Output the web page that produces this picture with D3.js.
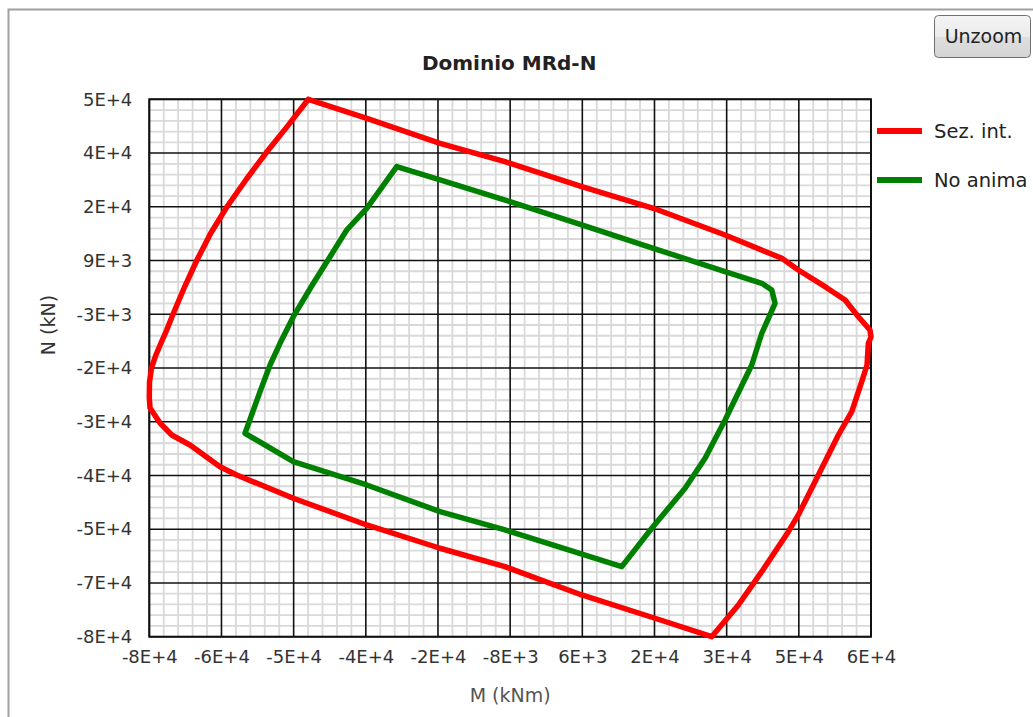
<!DOCTYPE html>
<html>
<head>
<meta charset="utf-8">
<script src="https://cdn.jsdelivr.net/npm/d3@7"></script>
<style>
  html, body { margin: 0; padding: 0; background: #fff; }
  svg { display: block; }
  text { font-family: "DejaVu Sans", sans-serif; }
</style>
</head>
<body>
<svg id="chart" width="1033" height="717"></svg>
<script>
// ---------- data ----------
const title = "Dominio MRd-N";
const xTitle = "M (kNm)";
const yTitle = "N (kN)";
const seriesNames = ["Sez. int.", "No anima"];
const seriesColors = ["#ff0000", "#008000"];

const xTickValues = [-78000, -64000, -50000, -36000, -22000, -8000, 6000, 20000, 34000, 48000, 62000];
const xTickLabels = ["-8E+4", "-6E+4", "-5E+4", "-4E+4", "-2E+4", "-8E+3", "6E+3", "2E+4", "3E+4", "5E+4", "6E+4"];
const yTickValues = [-80550, -67700, -54850, -42000, -29150, -16300, -3450, 9400, 22250, 35100, 47950];
const yTickLabels = ["-8E+4", "-7E+4", "-5E+4", "-4E+4", "-3E+4", "-2E+4", "-3E+3", "9E+3", "2E+4", "4E+4", "5E+4"];

// Sez. int. : [M, N]
const sezInt = [
  [-47150, 47950], [-35800, 43400], [-21600, 37430], [-9000, 33030], [5900, 27050],
  [19800, 21890], [33700, 15500], [44700, 9930], [47900, 7140], [53090, 3140],
  [56970, -40], [59550, -4030], [61800, -7210], [62000, -8880], [61490, -10390],
  [61230, -15580], [60200, -19570], [58270, -26750], [55670, -32320], [51790, -41880],
  [47900, -51440], [45970, -55440], [40800, -65000], [36270, -72960], [31100, -80550],
  [20100, -76140], [5890, -70570], [-9000, -63800], [-21600, -59400], [-35820, -53840],
  [-50060, -47450], [-61040, -41880], [-64280, -39900], [-70100, -34710], [-73650, -32320],
  [-75920, -29450], [-77860, -25860], [-78000, -23470], [-77960, -19640], [-77570, -16300],
  [-76800, -13430], [-75730, -10320], [-74620, -7210], [-73400, -3450], [-71190, 3000],
  [-68800, 9400], [-66090, 15910], [-62930, 22250], [-59140, 28890], [-55220, 35350],
  [-51110, 41660], [-47150, 47950]
];

// No anima : [M, N]
const noAnima = [
  [-30000, 31840], [-21600, 28660], [-8020, 23470], [5890, 17900], [19780, 12320],
  [33690, 6730], [40810, 3960], [42750, 2350], [43390, -830], [40810, -8000],
  [38870, -15580], [33690, -28730], [29810, -37890], [25930, -45060], [19470, -54620],
  [13650, -63800], [-8990, -55030], [-21600, -50660], [-35820, -44270], [-50060, -38700],
  [-59430, -31910], [-56520, -21960], [-54580, -15580], [-52640, -10390], [-50060, -4030],
  [-46180, 3960], [-42940, 10320], [-39700, 16700], [-35820, 21890], [-30000, 31840]
];

// ---------- layout ----------
const svg = d3.select("#chart");
const plot = { left: 149.3, right: 871, top: 99.3, bottom: 636.7 };

const x = d3.scaleLinear().domain([xTickValues[0], xTickValues[xTickValues.length - 1]]).range([plot.left, plot.right]);
const y = d3.scaleLinear().domain([yTickValues[0], yTickValues[yTickValues.length - 1]]).range([plot.bottom, plot.top]);

// outer frame
svg.append("rect")
  .attr("x", 8.5).attr("y", 9.5).attr("width", 1200).attr("height", 900)
  .attr("fill", "#fff").attr("stroke", "#a0a0a0").attr("stroke-width", 2);

// minor grid values
function minors(ticks, n) {
  const out = [];
  for (let i = 0; i < ticks.length - 1; i++) {
    for (let k = 1; k < n; k++) out.push(ticks[i] + (ticks[i + 1] - ticks[i]) * k / n);
  }
  return out;
}
const xMinor = minors(xTickValues, 5);
const yMinor = minors(yTickValues, 5);

const grid = svg.append("g");
grid.selectAll(".vmin").data(xMinor).join("line")
  .attr("x1", d => x(d)).attr("x2", d => x(d)).attr("y1", plot.top).attr("y2", plot.bottom)
  .attr("stroke", "#d9d9d9").attr("stroke-width", 1.8);
grid.selectAll(".hmin").data(yMinor).join("line")
  .attr("y1", d => y(d)).attr("y2", d => y(d)).attr("x1", plot.left).attr("x2", plot.right)
  .attr("stroke", "#d9d9d9").attr("stroke-width", 1.8);
grid.selectAll(".vmaj").data(xTickValues).join("line")
  .attr("x1", d => x(d)).attr("x2", d => x(d)).attr("y1", plot.top).attr("y2", plot.bottom)
  .attr("stroke", "#111").attr("stroke-width", 1.6);
grid.selectAll(".hmaj").data(yTickValues).join("line")
  .attr("y1", d => y(d)).attr("y2", d => y(d)).attr("x1", plot.left).attr("x2", plot.right)
  .attr("stroke", "#111").attr("stroke-width", 1.6);
svg.append("rect")
  .attr("x", plot.left).attr("y", plot.top)
  .attr("width", plot.right - plot.left).attr("height", plot.bottom - plot.top)
  .attr("fill", "none").attr("stroke", "#111").attr("stroke-width", 2);

// axes (labels only)
const xAxis = d3.axisBottom(x).tickValues(xTickValues)
  .tickFormat((d, i) => xTickLabels[i]).tickSize(0).tickPadding(14);
const gx = svg.append("g").attr("transform", `translate(0,${plot.bottom})`).call(xAxis);
gx.select(".domain").remove();
gx.selectAll("text").attr("font-size", 18).attr("fill", "#333")
  .attr("font-family", "DejaVu Sans, sans-serif");

const yAxis = d3.axisLeft(y).tickValues(yTickValues)
  .tickFormat((d, i) => yTickLabels[i]).tickSize(0).tickPadding(17);
const gy = svg.append("g").attr("transform", `translate(${plot.left},0)`).call(yAxis);
gy.select(".domain").remove();
gy.selectAll("text").attr("font-size", 18).attr("fill", "#333")
  .attr("font-family", "DejaVu Sans, sans-serif");

// series
const line = d3.line().x(d => x(d[0])).y(d => y(d[1]));
[sezInt, noAnima].forEach((s, i) => {
  svg.append("path").datum(s).attr("d", line)
    .attr("fill", "none").attr("stroke", seriesColors[i])
    .attr("stroke-width", 5.5).attr("stroke-linejoin", "round").attr("stroke-linecap", "round");
});

// title
svg.append("text").attr("x", (plot.left + plot.right) / 2 - 1).attr("y", 70)
  .attr("text-anchor", "middle").attr("font-size", 20).attr("font-weight", "bold")
  .attr("fill", "#222").text(title);

// axis titles
svg.append("text").attr("x", (plot.left + plot.right) / 2).attr("y", 702)
  .attr("text-anchor", "middle").attr("font-size", 19).attr("fill", "#555").text(xTitle);
svg.append("text").attr("transform", `translate(55,325) rotate(-90)`)
  .attr("text-anchor", "middle").attr("font-size", 19).attr("fill", "#333").text(yTitle);

// legend
const legend = svg.append("g");
seriesNames.forEach((name, i) => {
  const ly = 131 + i * 49;
  legend.append("line").attr("x1", 877).attr("x2", 922).attr("y1", ly).attr("y2", ly)
    .attr("stroke", seriesColors[i]).attr("stroke-width", 6);
  legend.append("text").attr("x", 934).attr("y", ly + 7)
    .attr("font-size", 19.5).attr("fill", "#222").text(name);
});

// Unzoom button
const defs = svg.append("defs");
const grad = defs.append("linearGradient").attr("id", "btnGrad").attr("x1", 0).attr("y1", 0).attr("x2", 0).attr("y2", 1);
grad.append("stop").attr("offset", "0%").attr("stop-color", "#f4f4f4");
grad.append("stop").attr("offset", "50%").attr("stop-color", "#ebebeb");
grad.append("stop").attr("offset", "51%").attr("stop-color", "#dedede");
grad.append("stop").attr("offset", "100%").attr("stop-color", "#d4d4d4");
svg.append("rect").attr("x", 934.5).attr("y", 15.5).attr("width", 96).attr("height", 42)
  .attr("rx", 4).attr("fill", "url(#btnGrad)").attr("stroke", "#707070").attr("stroke-width", 1);
svg.append("text").attr("x", 983.5).attr("y", 43).attr("text-anchor", "middle")
  .attr("font-size", 19).attr("fill", "#222").text("Unzoom");
</script>
</body>
</html>
